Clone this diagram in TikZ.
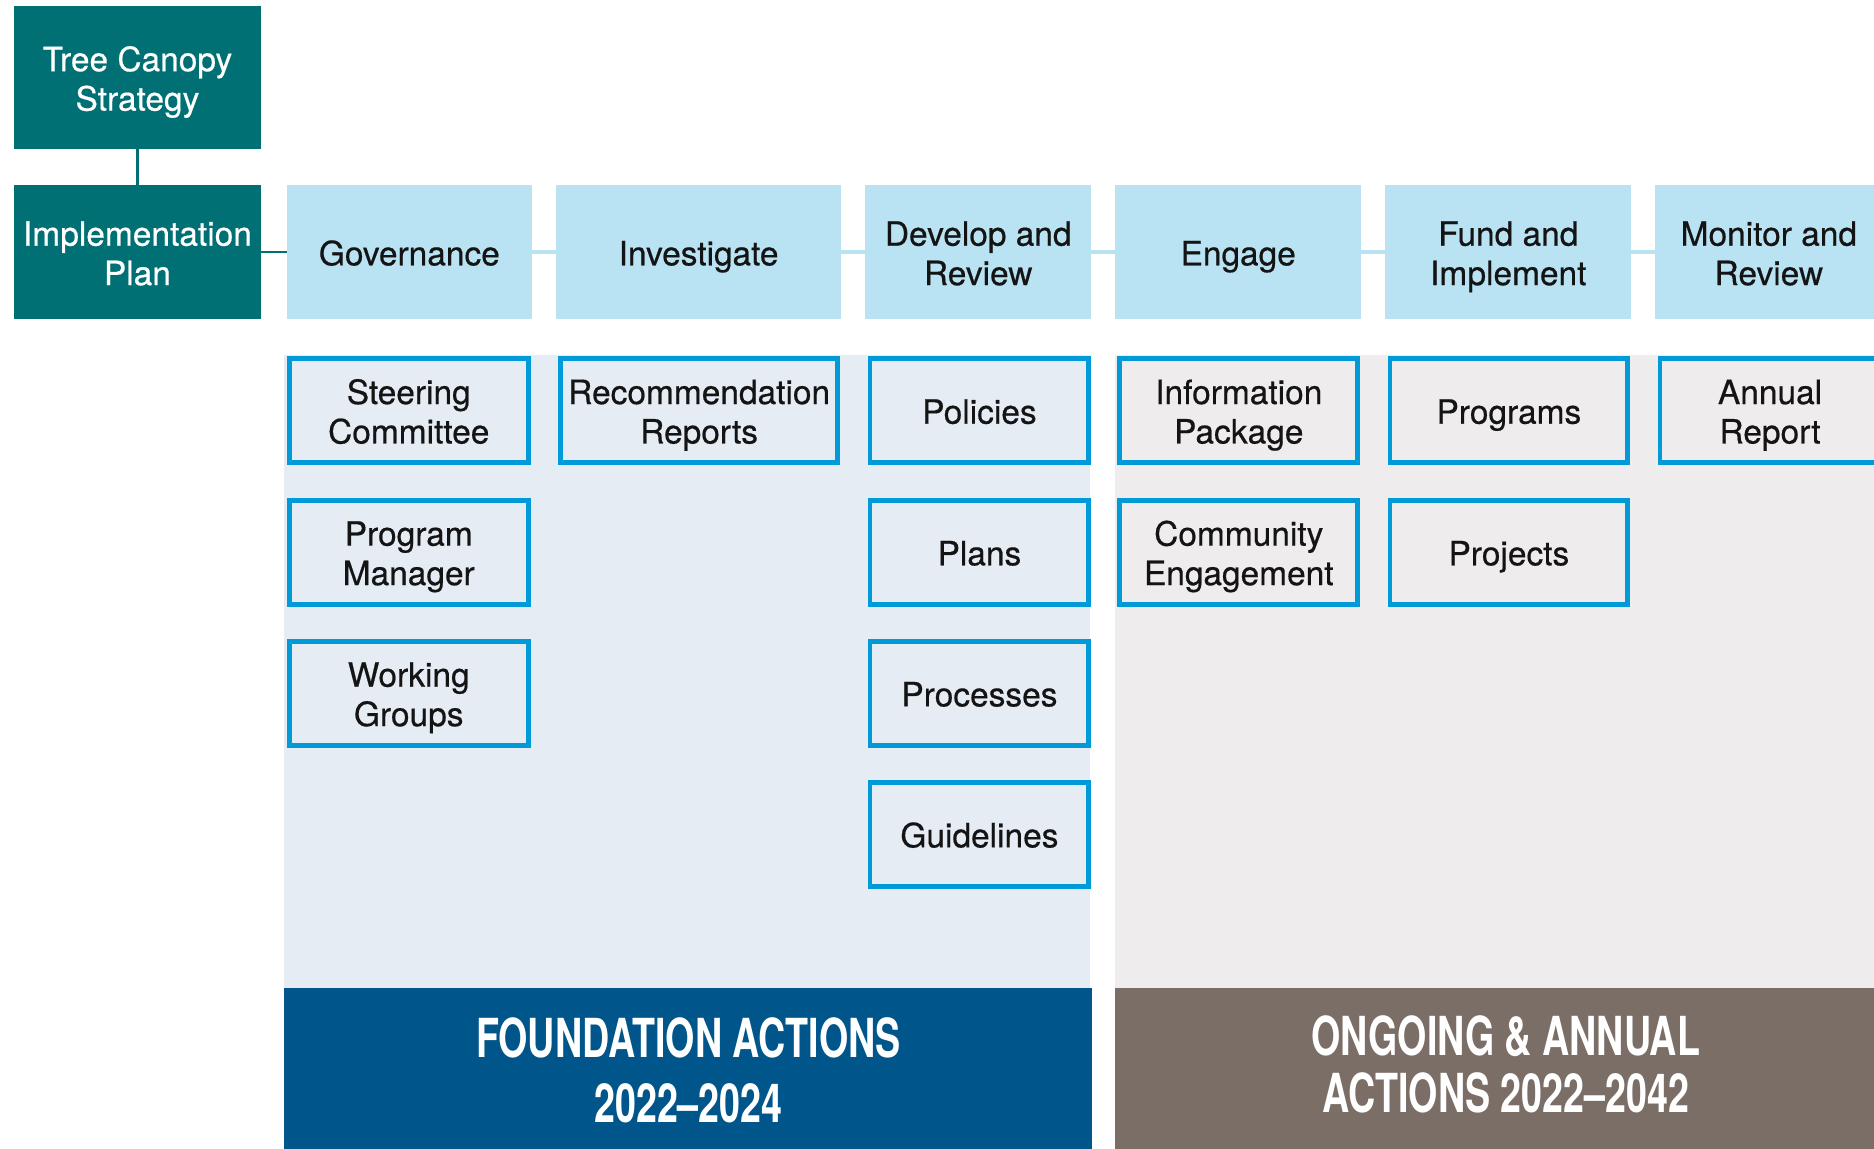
\documentclass[tikz,border=0pt]{standalone}
\usepackage{fontspec}
\setmainfont{TeX Gyre Heros}[FakeBold=0.5]
\newfontfamily\condfont{TeX Gyre Heros}[FakeStretch=0.70]
\definecolor{teal1}{RGB}{0,112,116}
\definecolor{hdrblue}{RGB}{185,226,242}
\definecolor{brdblue}{RGB}{0,154,217}
\definecolor{fndbg}{RGB}{229,236,244}
\definecolor{ongbg}{RGB}{238,236,237}
\definecolor{fndban}{RGB}{0,86,138}
\definecolor{ongban}{RGB}{123,110,102}
\definecolor{txt}{RGB}{20,20,20}
\newcommand\boxstrut{\rule[-7pt]{0pt}{36pt}}
\newcommand\twol[2]{\begin{tabular}{@{}c@{}}\rule{0pt}{32pt}#1\\#2\end{tabular}}
\begin{document}
\begin{tikzpicture}[x=1pt,y=-1pt,
  every node/.style={inner sep=0pt,outer sep=0pt,align=center,font=\fontsize{28}{33}\selectfont,
    execute at begin node=\boxstrut, execute at end node=\boxstrut},
  topbox/.style={fill=teal1,text=white,minimum height=#1},
  hdrbox/.style={fill=hdrblue,text=txt,minimum height=112},
  subbox/.style={draw=brdblue,line width=4pt,text=txt,minimum height=87},
  banner/.style={text=white,execute at begin node={},execute at end node={}},
  tealline/.style={draw=teal1,line width=2pt},
  blueline/.style={draw=hdrblue,line width=3pt}]
\clip (0,0) rectangle (1568,961);
% panels
\fill[fndbg] (238,297) rectangle (912,827);
\fill[ongbg] (933,297) rectangle (1568,827);
\fill[fndban] (238,827) rectangle (914,961);
\fill[ongban] (933,827) rectangle (1568,961);
% top boxes
\node[topbox=120,minimum width=206] (tcs) at (115,65) {\twol{Tree Canopy}{Strategy}};
\node[topbox=112,minimum width=206] (imp) at (115,211) {\twol{Implementation}{Plan}};
% headers
\node[hdrbox,minimum width=205] (gov) at (342.5,211) {Governance};
\node[hdrbox,minimum width=239] (inv) at (584.5,211) {Investigate};
\node[hdrbox,minimum width=189] (dev) at (818.5,211) {\twol{Develop and}{Review}};
\node[hdrbox,minimum width=206] (eng) at (1036,211) {Engage};
\node[hdrbox,minimum width=206] (fund) at (1262,211) {\twol{Fund and}{Implement}};
\node[hdrbox,minimum width=190] (mon) at (1480,211) {\twol{Monitor and}{Review}};
% connectors
\draw[tealline] (tcs.south) -- (imp.north);
\draw[tealline] (imp.east) -- (gov.west);
\draw[blueline] (gov.east) -- (inv.west);
\draw[blueline] (inv.east) -- (dev.west);
\draw[blueline] (dev.east) -- (eng.west);
\draw[blueline] (eng.east) -- (fund.west);
\draw[blueline] (fund.east) -- (mon.west);
% sub boxes row 1
\node[subbox,fill=fndbg,minimum width=200] (steer) at (342,343.5) {\twol{Steering}{Committee}};
\node[subbox,fill=fndbg,minimum width=232] (rec) at (585,343.5) {\twol{Recommendation}{Reports}};
\node[subbox,fill=fndbg,minimum width=183] (pol) at (819.5,343.5) {Policies};
\node[subbox,fill=ongbg,minimum width=199] (info) at (1036.5,343.5) {\twol{Information}{Package}};
\node[subbox,fill=ongbg,minimum width=199] (prog) at (1262.5,343.5) {Programs};
\node[subbox,fill=ongbg,minimum width=184] (ann) at (1481,343.5) {\twol{Annual}{Report}};
% row 2
\node[subbox,fill=fndbg,minimum width=200] (pm) at (342,462) {\twol{Program}{Manager}};
\node[subbox,fill=fndbg,minimum width=183] (plans) at (819.5,462) {Plans};
\node[subbox,fill=ongbg,minimum width=199] (comm) at (1036.5,462) {\twol{Community}{Engagement}};
\node[subbox,fill=ongbg,minimum width=199] (proj) at (1262.5,462) {Projects};
% row 3
\node[subbox,fill=fndbg,minimum width=200] (wg) at (342,580) {\twol{Working}{Groups}};
\node[subbox,fill=fndbg,minimum width=183] (proc) at (819.5,580) {Processes};
% row 4
\node[subbox,fill=fndbg,minimum width=183] (guide) at (819.5,698) {Guidelines};
% banners
\node[banner,font=\condfont\bfseries\fontsize{45}{54}\selectfont] (fnd) at (576,899) {FOUNDATION ACTIONS\\2022–2024};
\node[banner,font=\condfont\bfseries\fontsize{45}{48}\selectfont] (ong) at (1260,894) {ONGOING \& ANNUAL\\ACTIONS 2022–2042};
\end{tikzpicture}
\end{document}
